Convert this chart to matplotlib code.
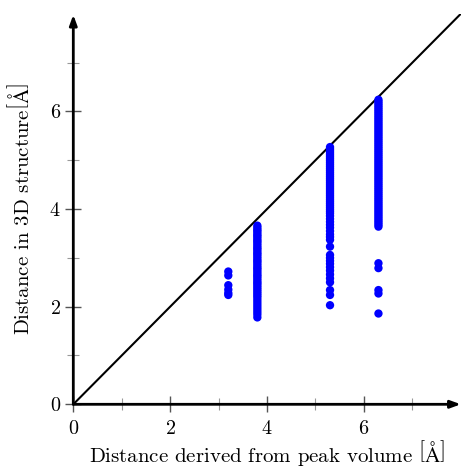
import matplotlib
matplotlib.use("Agg")
import matplotlib.pyplot as plt
import numpy as np

plt.rcParams['font.family'] = ['cmr10', 'DejaVu Serif']
plt.rcParams['mathtext.fontset'] = 'cm'
plt.rcParams['axes.formatter.use_mathtext'] = True

# Data: predicted distance (x) and observed distances (y) per column
x_levels = [3.2, 3.8, 5.3, 6.3]
col1_y = [2.72, 2.64, 2.44, 2.35, 2.28, 2.24]
col2_y = [3.66, 3.62, 3.58, 3.55, 3.51, 3.47, 3.44, 3.40, 3.36, 3.33, 3.29,
          3.25, 3.21, 3.18, 3.14, 3.10, 3.07, 3.03, 2.99, 2.95, 2.92, 2.88,
          2.84, 2.80, 2.77, 2.73, 2.69, 2.65, 2.62, 2.58, 2.54, 2.50, 2.47,
          2.43, 2.39, 2.35, 2.31, 2.27, 2.23, 2.19, 2.14, 2.09, 2.04, 1.99,
          1.94, 1.89, 1.84, 1.78]
col3_y = [5.27, 5.23, 5.19, 5.15, 5.11, 5.07, 5.03, 4.99, 4.95, 4.91, 4.87,
          4.83, 4.79, 4.75, 4.71, 4.67, 4.63, 4.59, 4.55, 4.51, 4.47, 4.43,
          4.39, 4.35, 4.31, 4.27, 4.23, 4.19, 4.15, 4.11, 4.07, 4.03, 3.99,
          3.95, 3.91, 3.86, 3.80, 3.74, 3.68, 3.62, 3.55, 3.48, 3.43, 3.37,
          3.23, 3.06, 3.00, 2.94, 2.88, 2.81, 2.74, 2.66, 2.58, 2.50, 2.34,
          2.24, 2.03]
col4_y = [6.24, 6.20, 6.16, 6.12, 6.08, 6.04, 6.00, 5.96, 5.92, 5.88, 5.84,
          5.80, 5.76, 5.72, 5.68, 5.64, 5.60, 5.56, 5.52, 5.48, 5.44, 5.40,
          5.36, 5.32, 5.28, 5.24, 5.20, 5.16, 5.12, 5.08, 5.04, 5.00, 4.96,
          4.92, 4.88, 4.84, 4.80, 4.76, 4.72, 4.68, 4.64, 4.60, 4.56, 4.52,
          4.48, 4.44, 4.40, 4.36, 4.32, 4.28, 4.24, 4.20, 4.16, 4.12, 4.08,
          4.04, 4.00, 3.96, 3.92, 3.88, 3.84, 3.80, 3.76, 3.72, 3.68, 3.64,
          2.89, 2.79, 2.34, 2.27, 1.86]
columns = [col1_y, col2_y, col3_y, col4_y]

diag = [0, 8]
major_ticks = [0, 2, 4, 6]
minor_ticks = [1, 3, 5, 7]

fig = plt.figure(figsize=(4.62, 4.69), dpi=100)
ax = fig.add_axes([73.3 / 462, (469 - 404.3) / 469, 387.5 / 462, 390.5 / 469])
ax.set_xlim(0, 8)
ax.set_ylim(0, 8)

ax.plot(diag, diag, color='black', lw=1.5, zorder=2)
for xv, ys in zip(x_levels, columns):
    ax.scatter([xv] * len(ys), ys, s=36, color='#0000ff', edgecolors='none', zorder=3)

for s in ax.spines.values():
    s.set_visible(False)

# axis lines with arrows
ax.annotate('', xy=(8.0, 0), xytext=(0, 0), xycoords='data',
            arrowprops=dict(arrowstyle='-|>,head_length=0.6,head_width=0.22',
                            lw=2.0, color='black', shrinkA=0, shrinkB=0),
            annotation_clip=False, zorder=4)
ax.annotate('', xy=(0, 7.98), xytext=(0, 0), xycoords='data',
            arrowprops=dict(arrowstyle='-|>,head_length=0.6,head_width=0.22',
                            lw=2.0, color='black', shrinkA=0, shrinkB=0),
            annotation_clip=False, zorder=4)

ax.set_xticks(major_ticks)
ax.set_yticks(major_ticks)
ax.set_xticks(minor_ticks, minor=True)
ax.set_yticks(minor_ticks, minor=True)
ax.tick_params(which='major', direction='inout', length=12, width=1.0,
               color='#555555', labelsize=14.5, pad=3)
ax.tick_params(which='minor', direction='inout', length=9, width=0.8,
               color='#999999')
ax.tick_params(axis='x', which='major', pad=5)

ax.set_xlabel(r'Distance derived from peak volume $\left[\mathrm{\AA}\right]$',
              fontsize=15, labelpad=0)
ax.set_ylabel(r'Distance in 3D structure$\left[\mathrm{\AA}\right]$',
              fontsize=15, labelpad=12)

fig.savefig('out.png', dpi=100)
